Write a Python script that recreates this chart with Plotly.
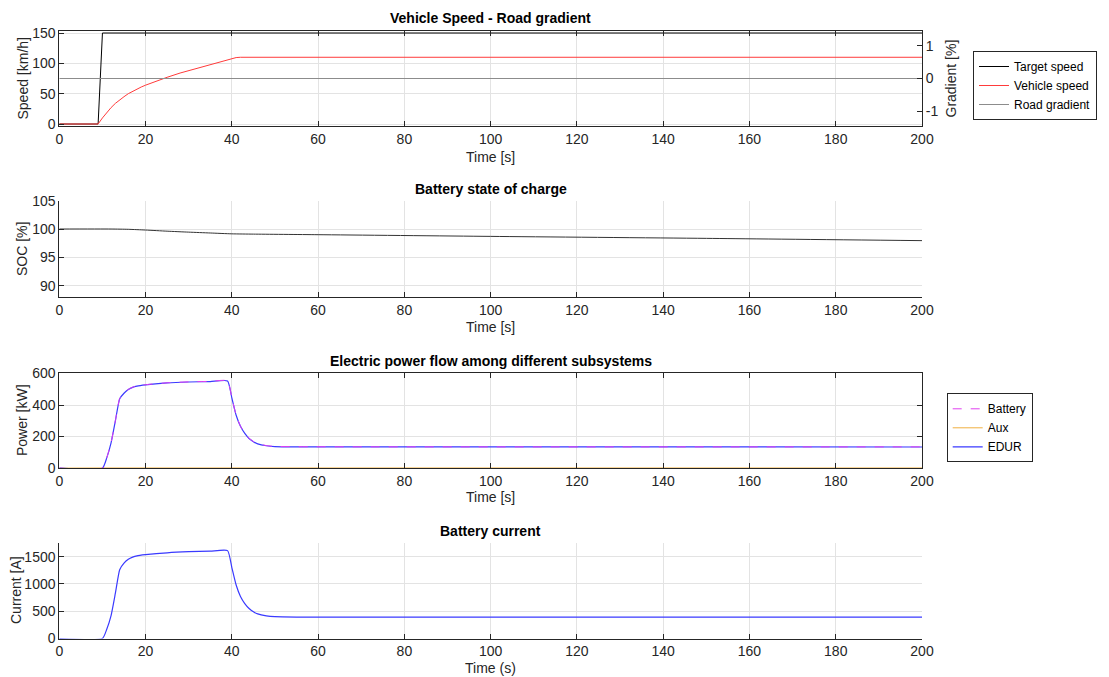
import plotly.graph_objects as go

# ---- Vehicle speed / road gradient ----
t_target = [0, 9, 10, 200]
target_speed = [0, 0, 150, 150]

t_vehicle = [0, 9, 10, 11, 12, 13, 14, 15, 16, 17, 18, 19, 20, 22, 25, 28, 30, 33, 35,
             38, 40, 41, 42, 200]
vehicle_speed = [0, 0, 10, 19, 27, 34, 40, 45, 50, 54, 57.5, 61, 64, 69.5, 77, 84, 88, 94.5, 98.5,
                 104.5, 108, 109.5, 110, 110]

t_gradient = [0, 200]
road_gradient = [0, 0]

# ---- Battery state of charge ----
t_soc = [0, 12, 16, 20, 25, 30, 35, 40, 45, 60, 100, 150, 200]
soc = [100, 100, 99.95, 99.82, 99.62, 99.45, 99.3, 99.15, 99.1, 99.0, 98.7, 98.35, 97.95]

# ---- Electric power flow ----
t_power = [0, 10, 11, 12, 13, 14, 15, 16, 17, 18, 20, 25, 30, 35, 39,
           40, 41, 42, 43, 44, 45, 46, 48, 50, 55, 200]
edur_power = [0, 0, 65, 160, 300, 440, 475, 498, 512, 520, 528, 540, 546, 549, 553,
              445, 335, 265, 220, 188, 168, 154, 142, 137, 135, 134]
battery_power = [0, 0, 66, 161, 301, 441, 476, 499, 513, 521, 529, 541, 547, 550, 554,
                 446, 336, 266, 221, 189, 169, 155, 143, 138, 136, 135]
t_aux = [0, 10, 200]
aux_power = [0, 1, 1]

# ---- Battery current ----
t_current = [0, 10, 11, 12, 13, 14, 15, 16, 17, 18, 20, 25, 30, 35, 39,
             40, 41, 42, 43, 44, 45, 46, 48, 50, 55, 200]
battery_current = [0, 0, 170, 420, 830, 1260, 1380, 1450, 1490, 1515, 1535, 1570, 1590, 1600, 1610,
                   1300, 980, 770, 640, 550, 490, 450, 415, 400, 393, 390]

FONT = "Liberation Sans, Arial, sans-serif"
TXT = "#262626"
GRID = "#e3e3e3"

fig = go.Figure()

# panel 1
fig.add_trace(go.Scatter(x=t_target, y=target_speed, mode="lines", name="Target speed",
                         line=dict(color="#000000", width=1), xaxis="x", yaxis="y", legend="legend"))
fig.add_trace(go.Scatter(x=t_vehicle, y=vehicle_speed, mode="lines", name="Vehicle speed",
                         line=dict(color="#ff3b3b", width=1),
                         xaxis="x", yaxis="y", legend="legend"))
fig.add_trace(go.Scatter(x=t_gradient, y=road_gradient, mode="lines", name="Road gradient",
                         line=dict(color="#8c8c8c", width=1), xaxis="x", yaxis="y5", legend="legend"))

# panel 2
fig.add_trace(go.Scatter(x=t_soc, y=soc, mode="lines", showlegend=False,
                         line=dict(color="#333333", width=1, shape="spline", smoothing=0.6),
                         xaxis="x2", yaxis="y2"))

# panel 3
fig.add_trace(go.Scatter(x=t_aux, y=aux_power, mode="lines", name="Aux", legendrank=2,
                         line=dict(color="#f0b040", width=1), xaxis="x3", yaxis="y3", legend="legend2"))
fig.add_trace(go.Scatter(x=t_power, y=edur_power, mode="lines", name="EDUR", legendrank=3,
                         line=dict(color="#3a3aff", width=1.2, shape="spline", smoothing=0.5),
                         xaxis="x3", yaxis="y3", legend="legend2"))
fig.add_trace(go.Scatter(x=t_power, y=battery_power, mode="lines", name="Battery", legendrank=1,
                         line=dict(color="#e040f0", width=1, dash="dash", shape="spline", smoothing=0.5),
                         xaxis="x3", yaxis="y3", legend="legend2"))

# panel 4
fig.add_trace(go.Scatter(x=t_current, y=battery_current, mode="lines", showlegend=False,
                         line=dict(color="#3a3aff", width=1.2, shape="spline", smoothing=0.5),
                         xaxis="x4", yaxis="y4"))

W, H = 1109, 677
x0, x1 = 59.3 / W, 922 / W
panels = [(31, 126), (200.7, 297), (372.7, 468.3), (542.7, 638.5)]
doms = [[1 - b / H, 1 - t / H] for t, b in panels]

tickfont = dict(family=FONT, size=14, color=TXT)


def xax(anchor, mirror):
    return dict(domain=[x0, x1], anchor=anchor, range=[0, 200], dtick=20, tick0=0,
                ticks="inside", ticklen=5, tickcolor=TXT, showline=True, linecolor=TXT,
                linewidth=1, mirror=mirror, showgrid=True, gridcolor=GRID, zeroline=False,
                tickfont=tickfont, automargin=False)


def yax(anchor, dom_idx, rng, tickvals, mirror):
    return dict(domain=doms[dom_idx], anchor=anchor, range=rng, tickvals=tickvals,
                ticks="inside", ticklen=5, tickcolor=TXT, showline=True, linecolor=TXT,
                linewidth=1, mirror=mirror, showgrid=True, gridcolor=GRID, zeroline=False,
                tickfont=tickfont, automargin=False)


fig.update_layout(
    width=W, height=H,
    margin=dict(l=0, r=0, t=0, b=0, autoexpand=False),
    paper_bgcolor="white", plot_bgcolor="white",
    font=dict(family=FONT, color=TXT, size=14),
    xaxis=xax("y", "ticks"),
    yaxis=yax("x", 0, [-3.3, 153.3], [0, 50, 100, 150], False),
    yaxis5=dict(overlaying="y", side="right", anchor="x", range=[-1.46, 1.46],
                tickvals=[-1, 0, 1], ticktext=["-1", "0", "1"], ticks="inside", ticklen=5,
                tickcolor=TXT, showline=True, linecolor=TXT, showgrid=False, zeroline=False,
                tickfont=tickfont, automargin=False),
    xaxis2=xax("y2", False),
    yaxis2=yax("x2", 1, [88, 105], [90, 95, 100, 105], False),
    xaxis3=xax("y3", "ticks"),
    yaxis3=yax("x3", 2, [-1, 605], [0, 200, 400, 600], "ticks"),
    xaxis4=xax("y4", False),
    yaxis4=yax("x4", 3, [0, 1755], [0, 500, 1000, 1500], False),
    legend=dict(x=973 / W, y=1 - 51 / H, xanchor="left", yanchor="top",
                bgcolor="white", bordercolor=TXT, borderwidth=1,
                font=dict(family=FONT, size=12, color="#000000"), tracegroupgap=0),
    legend2=dict(x=946.7 / W, y=1 - 393.3 / H, xanchor="left", yanchor="top",
                 bgcolor="white", bordercolor=TXT, borderwidth=1,
                 font=dict(family=FONT, size=12, color="#000000"), tracegroupgap=0),
)

xc = (59.3 + 922) / 2 / W
ann = []
titles = [("Vehicle Speed - Road gradient", 18), ("Battery state of charge", 189),
          ("Electric power flow among different subsystems", 361), ("Battery current", 531)]
for text, yp in titles:
    ann.append(dict(text="<b>%s</b>" % text, x=xc, y=1 - yp / H, xref="paper", yref="paper",
                    showarrow=False, font=dict(family=FONT, size=14, color="#000000"),
                    xanchor="center", yanchor="middle"))
xlabels = [("Time [s]", 157), ("Time [s]", 327), ("Time [s]", 497), ("Time (s)", 668)]
for text, yp in xlabels:
    ann.append(dict(text=text, x=xc, y=1 - yp / H, xref="paper", yref="paper",
                    showarrow=False, font=dict(family=FONT, size=14, color=TXT),
                    xanchor="center", yanchor="middle"))
ylabels = [("Speed [km/h]", 22, 78.5), ("SOC [%]", 22, 249), ("Power [kW]", 22, 420),
           ("Current [A]", 16, 590), ("Gradient [%]", 950, 78.5)]
for text, xp, yp in ylabels:
    ann.append(dict(text=text, x=xp / W, y=1 - yp / H, xref="paper", yref="paper",
                    showarrow=False, textangle=-90, font=dict(family=FONT, size=14, color=TXT),
                    xanchor="center", yanchor="middle"))
fig.update_layout(annotations=ann)

fig.write_html("out.html")
